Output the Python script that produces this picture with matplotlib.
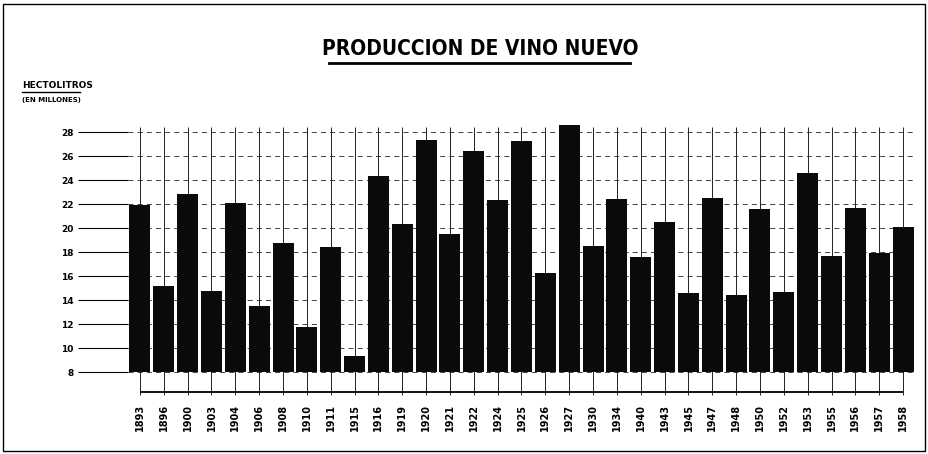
import matplotlib
matplotlib.use("Agg")
import matplotlib.pyplot as plt
from matplotlib.patches import Rectangle
from matplotlib.lines import Line2D

# datos: produccion de vino nuevo (millones de hectolitros)
years = ["1893", "1896", "1900", "1903", "1904", "1906", "1908", "1910", "1911",
         "1915", "1916", "1919", "1920", "1921", "1922", "1924", "1925", "1926",
         "1927", "1930", "1934", "1940", "1943", "1945", "1947", "1948", "1950",
         "1952", "1953", "1955", "1956", "1957", "1958"]
produccion = [21.9, 15.2, 22.8, 14.75, 22.1, 13.5, 18.75, 11.75, 18.4,
              9.3, 24.3, 20.3, 27.3, 19.5, 26.4, 22.3, 27.25, 16.25,
              28.6, 18.5, 22.4, 17.6, 20.5, 14.6, 22.5, 14.4, 21.6,
              14.7, 24.6, 17.7, 21.7, 17.9, 20.1]
y_ticks = [8, 10, 12, 14, 16, 18, 20, 22, 24, 26, 28]
base = 8

W, H = 929, 454
fig = plt.figure(figsize=(W / 100, H / 100), dpi=100)
ax = fig.add_axes([128 / W, (H - 400.8) / H, 787 / W, 280.8 / H])

x = list(range(len(years)))
alturas = [v - base for v in produccion]

# rejilla
for t in y_ticks:
    ax.axhline(t, color="#222222", lw=0.6, ls=(0, (6, 5)), zorder=1)
ax.vlines(x, 6.1, 28.4, color="#222222", lw=0.7, zorder=1)
ax.hlines(6.33, x[0], x[-1], color="black", lw=1.3, zorder=1)

ax.bar(x, alturas, bottom=base, width=0.88, color="#0a0a0a", zorder=2)

ax.set_xlim(-0.5, len(years) - 0.5)
ax.set_ylim(5.6, 29)
for s in ax.spines.values():
    s.set_visible(False)

ax.set_yticks(y_ticks)
ax.set_yticklabels([str(t) for t in y_ticks], fontsize=6.5, fontweight="bold")
ax.tick_params(axis="y", length=36, width=0.8, pad=3)
ax.set_xticks(x)
ax.set_xticklabels(years, rotation=90, fontsize=7, fontweight="bold")
ax.tick_params(axis="x", length=0, pad=2)

# titulo
fig.text(480 / W, 1 - 49 / H, "PRODUCCION DE VINO NUEVO", ha="center", va="center",
         fontsize=15, fontweight="heavy", fontstretch="condensed")
fig.add_artist(Line2D([329 / W, 630 / W], [1 - 63 / H, 1 - 63 / H], color="black", lw=2))

fig.text(22 / W, 1 - 86 / H, "HECTOLITROS", ha="left", va="center", fontsize=6.5, fontweight="bold")
fig.add_artist(Line2D([22 / W, 80 / W], [1 - 92 / H, 1 - 92 / H], color="black", lw=1))
fig.text(22 / W, 1 - 100 / H, "(EN MILLONES)", ha="left", va="center", fontsize=5, fontweight="bold")

# marco
fig.add_artist(Rectangle((3 / W, 3 / H), 922 / W, 447 / H, transform=fig.transFigure,
                         fill=False, lw=1, color="black"))

fig.savefig("out.png", dpi=100)
